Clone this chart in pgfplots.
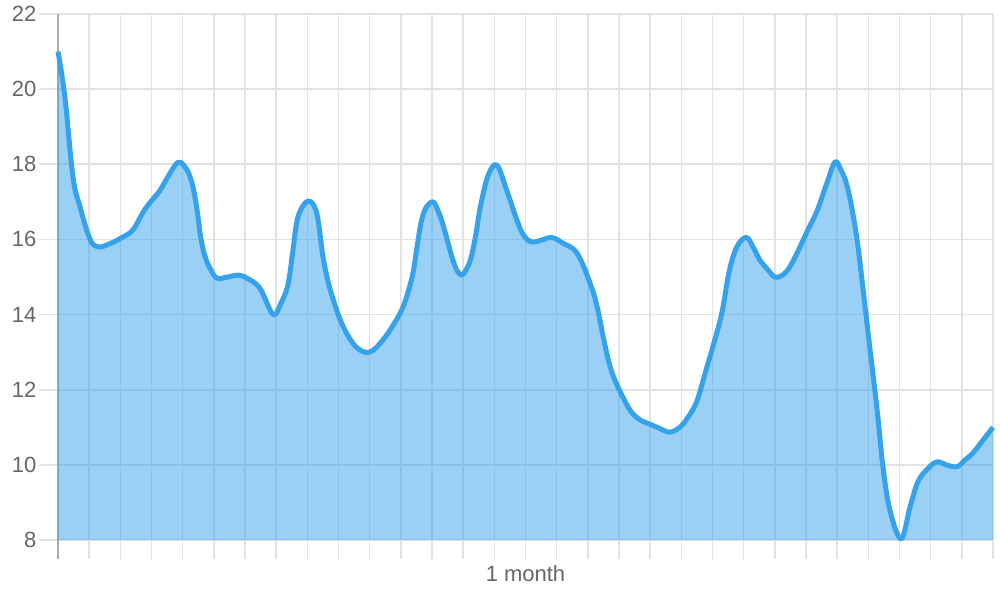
\documentclass[border=0pt]{standalone}
\usepackage{pgfplots}
\pgfplotsset{compat=1.18}
\usepgfplotslibrary{fillbetween}
\usetikzlibrary{calc}
\usepackage{pgfplotstable}
\usepackage{fontspec}
\setmainfont{Liberation Sans}

\definecolor{lineblue}{HTML}{36A2EB}
\definecolor{gridgray}{HTML}{E2E2E2}
\definecolor{axisgray}{HTML}{AAAAAA}
\definecolor{labelgray}{HTML}{666666}

% day, value
\pgfplotstableread{
x y
0 21
0.22 19.8
0.48 17.66
0.71 16.86
1.03 16.0
1.30 15.8
1.70 15.9
2.05 16.05
2.40 16.25
2.75 16.75
3.05 17.08
3.27 17.3
3.55 17.7
3.85 18.05
4.10 17.9
4.30 17.5
4.46 16.8
4.58 16.05
4.72 15.54
4.90 15.2
5.10 14.97
5.45 15.0
5.77 15.05
6.06 14.97
6.48 14.7
6.90 14.0
7.15 14.3
7.38 14.8
7.54 15.72
7.70 16.6
8.02 17.02
8.30 16.7
8.50 15.55
8.66 14.9
8.85 14.35
9.14 13.7
9.55 13.15
10.0 13.0
10.45 13.35
10.85 13.85
11.07 14.2
11.25 14.65
11.40 15.15
11.52 15.8
11.65 16.45
11.80 16.83
12.03 17.0
12.20 16.75
12.35 16.4
12.50 15.95
12.67 15.45
12.82 15.15
12.96 15.05
13.10 15.2
13.25 15.5
13.40 16.1
13.56 16.9
13.80 17.7
14.08 17.98
14.40 17.3
14.73 16.5
14.95 16.1
15.20 15.93
15.50 15.98
15.85 16.05
16.20 15.9
16.65 15.64
17.07 14.84
17.30 14.2
17.52 13.3
17.72 12.6
17.95 12.1
18.35 11.46
18.67 11.2
19.0 11.08
19.30 10.97
19.63 10.87
19.95 11.0
20.20 11.25
20.50 11.7
20.82 12.6
21.01 13.14
21.30 14.04
21.50 15.0
21.66 15.54
21.85 15.9
22.10 16.05
22.30 15.8
22.52 15.45
22.78 15.19
23.0 15.0
23.25 15.05
23.48 15.27
23.75 15.7
24.03 16.2
24.35 16.75
24.67 17.5
24.93 18.06
25.12 17.85
25.31 17.45
25.50 16.7
25.67 15.8
25.82 14.75
25.98 13.6
26.15 12.4
26.31 11.25
26.47 9.94
26.69 8.8
27.05 8.03
27.33 8.85
27.59 9.55
27.91 9.9
28.20 10.08
28.50 10.0
28.84 9.95
29.10 10.13
29.36 10.32
29.68 10.66
30 11.0
}\datatable

\begin{document}
\begin{tikzpicture}
\begin{axis}[
  scale only axis,
  width=701.25pt, height=394.5pt,
  xmin=0, xmax=30, ymin=8, ymax=22,
  xtick={0,1,...,30}, xticklabels={},
  ytick={8,10,...,22},
  axis x line*=bottom, axis y line*=left,
  x axis line style={gridgray, line width=1.2pt},
  y axis line style={axisgray, line width=1pt},
  grid=major,
  major grid style={gridgray, line width=1.2pt},
  tick align=outside,
  major tick length=14.6pt,
  major tick style={gridgray, line width=1.2pt},
  tick label style={font=\fontsize{16.5}{19}\selectfont, text=labelgray},
  /pgf/number format/assume math mode=true,
  yticklabel style={inner sep=0pt, anchor=east, xshift=-1.5pt},
  xlabel={1 month},
  xlabel style={at={(rel axis cs:0.5,0)}, anchor=north, inner sep=0pt,
    yshift=-18.75pt, font=\fontsize{16.5}{19}\selectfont, text=labelgray},
  clip=false,
]
\addplot[draw=none, smooth, tension=0.6, name path=A] table {\datatable};
\addplot[draw=none, name path=B] coordinates {(0,8) (30,8)};
\addplot[fill=lineblue, fill opacity=0.5, draw=none] fill between[of=A and B];
\addplot[lineblue, line width=3.75pt, smooth, tension=0.6, line join=round]
  table {\datatable};
\draw[axisgray, line width=1pt] (rel axis cs:0,0) -- ([yshift=-14.6pt]rel axis cs:0,0);
\coordinate (ll) at (rel axis cs:0,0);
\coordinate (ur) at (rel axis cs:1,1);
\end{axis}
\pgfresetboundingbox
\path[use as bounding box] ($(ll)+(-43.5pt,-45pt)$) rectangle ($(ur)+(5.25pt,10.5pt)$);
\end{tikzpicture}
\end{document}
